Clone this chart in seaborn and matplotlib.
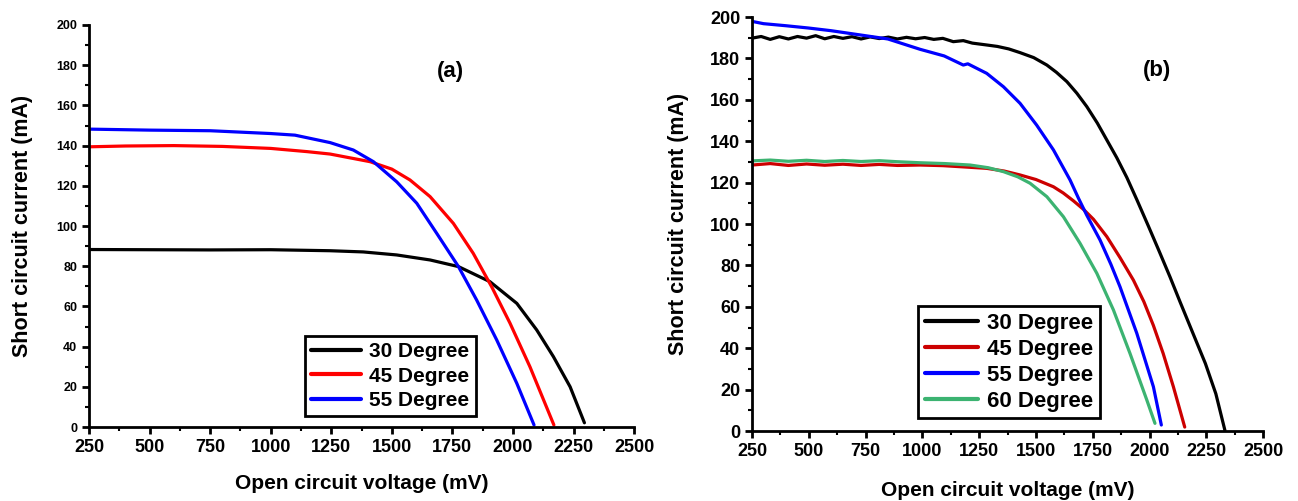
import pandas as pd
import seaborn as sns
import matplotlib.pyplot as plt
from matplotlib.ticker import MultipleLocator

# ---- panel (a) data ----
a30_v = [250, 500, 750, 1000, 1245, 1382, 1520, 1658, 1775, 1905, 2016, 2098, 2167, 2236, 2295]
a30_i = [88.3, 88.2, 88.1, 88.2, 87.7, 87.1, 85.6, 83.1, 79.8, 72.3, 61.5, 48.3, 35.0, 20.0, 2.1]

a45_v = [250, 400, 600, 800, 1000, 1150, 1245, 1410, 1500, 1575, 1658, 1754, 1836, 1912, 1988, 2070, 2169]
a45_i = [139.4, 139.8, 140.0, 139.6, 138.6, 137.0, 135.8, 132.0, 128.3, 122.9, 114.6, 101.3, 86.4, 69.8, 51.6, 30.0, 1.0]

a55_v = [250, 500, 750, 1000, 1100, 1245, 1341, 1424, 1520, 1603, 1685, 1775, 1850, 1933, 2016, 2087]
a55_i = [148.2, 147.7, 147.4, 146.0, 145.2, 141.5, 137.8, 132.0, 122.0, 111.3, 96.4, 79.8, 63.2, 43.3, 21.7, 1.0]

# ---- panel (b) data ----
b30_v = [250, 290, 330, 370, 410, 450, 490, 530, 570, 610, 650, 690, 730, 770, 810, 850, 890, 930,
         970, 1010, 1050, 1090, 1136, 1180, 1220, 1283, 1330, 1380, 1430, 1490, 1548, 1590, 1636,
         1680, 1724, 1770, 1812, 1856, 1900, 1944, 1995, 2040, 2090, 2134, 2192, 2246, 2292, 2332]
b30_i = [189.8, 190.6, 189.2, 190.5, 189.4, 190.6, 189.8, 191.0, 189.5, 190.6, 189.7, 190.5, 189.4,
         190.4, 189.6, 190.3, 189.4, 190.2, 189.5, 190.1, 189.2, 189.7, 188.1, 188.6, 187.4, 186.5,
         185.8, 184.6, 182.8, 180.4, 176.8, 173.3, 168.8, 163.2, 156.7, 148.8, 140.6, 132.0, 122.5,
         111.8, 99.0, 87.5, 74.5, 62.5, 47.0, 32.6, 18.0, 0.3]

b45_v = [250, 330, 410, 490, 570, 650, 730, 810, 890, 990, 1090, 1180, 1283, 1360, 1430, 1500,
         1577, 1620, 1665, 1710, 1753, 1812, 1870, 1929, 1975, 2017, 2060, 2105, 2134, 2155]
b45_i = [128.5, 129.2, 128.3, 129.0, 128.4, 128.9, 128.3, 128.8, 128.3, 128.5, 128.2, 127.6, 126.9,
         125.6, 123.7, 121.5, 118.0, 115.0, 111.2, 107.0, 102.3, 93.9, 83.8, 72.9, 62.5, 51.0, 37.5,
         21.4, 10.1, 1.9]

b55_v = [250, 300, 399, 498, 598, 748, 848, 990, 1096, 1180, 1200, 1283, 1357, 1430, 1503, 1577,
         1650, 1687, 1724, 1782, 1830, 1870, 1944, 2017, 2052]
b55_i = [197.9, 196.8, 195.8, 194.7, 193.4, 191.0, 189.4, 184.4, 181.2, 176.8, 177.4, 172.8, 166.3,
         158.3, 147.8, 135.8, 121.3, 112.5, 104.2, 92.3, 80.5, 69.7, 47.2, 21.4, 2.9]

b60_v = [250, 330, 410, 490, 570, 650, 730, 810, 890, 990, 1100, 1210, 1290, 1357, 1420, 1474,
         1548, 1621, 1694, 1768, 1841, 1914, 1988, 2024]
b60_i = [130.5, 130.9, 130.3, 130.8, 130.2, 130.7, 130.2, 130.6, 130.1, 129.6, 129.2, 128.5, 127.2,
         125.3, 122.8, 119.7, 113.2, 103.5, 90.7, 76.2, 58.5, 37.5, 15.0, 3.7]

labels_a = ['30 Degree', '45 Degree', '55 Degree']
labels_b = ['30 Degree', '45 Degree', '55 Degree', '60 Degree']
colors_a = ['#000000', '#ff0000', '#0000ff']
colors_b = ['#000000', '#cc0000', '#0000ff', '#3cb371']


def long_df(series, labels):
    frames = []
    for (v, i), lab in zip(series, labels):
        frames.append(pd.DataFrame({'V': v, 'I': i, 'angle': lab}))
    return pd.concat(frames, ignore_index=True)


df_a = long_df([(a30_v, a30_i), (a45_v, a45_i), (a55_v, a55_i)], labels_a)
df_b = long_df([(b30_v, b30_i), (b45_v, b45_i), (b55_v, b55_i), (b60_v, b60_i)], labels_b)

sns.set_style('ticks')
plt.rcParams['font.family'] = ['Liberation Sans', 'DejaVu Sans']
plt.rcParams['font.weight'] = 'bold'
plt.rcParams['text.color'] = 'black'
plt.rcParams['axes.labelcolor'] = 'black'
plt.rcParams['xtick.color'] = 'black'
plt.rcParams['ytick.color'] = 'black'

fig = plt.figure(figsize=(12.98, 5.01), dpi=100)
ax1 = fig.add_axes([0.0686, 0.1477, 0.4199, 0.8024])
ax2 = fig.add_axes([0.5794, 0.1397, 0.3937, 0.8263])


def style_axes(ax, ysize, ypad, xpad):
    ax.set_xlim(250, 2500)
    ax.set_ylim(0, 200)
    ax.xaxis.set_major_locator(MultipleLocator(250))
    ax.xaxis.set_minor_locator(MultipleLocator(125))
    ax.yaxis.set_major_locator(MultipleLocator(20))
    ax.yaxis.set_minor_locator(MultipleLocator(10))
    for side in ['top', 'right']:
        ax.spines[side].set_visible(False)
    for side in ['left', 'bottom']:
        ax.spines[side].set_linewidth(2)
        ax.spines[side].set_color('black')
    ax.tick_params(which='major', direction='out', length=5, width=2, color='black')
    ax.tick_params(which='minor', direction='out', length=3, width=1.5, color='black')
    ax.tick_params(axis='x', which='major', labelsize=13)
    ax.tick_params(axis='y', which='major', labelsize=ysize)
    for t in ax.get_xticklabels() + ax.get_yticklabels():
        t.set_fontweight('bold')
    ax.set_xlabel('Open circuit voltage (mV)', fontsize=15, fontweight='bold', labelpad=xpad)
    ax.set_ylabel('Short circuit current (mA)', fontsize=15.5, fontweight='bold', labelpad=ypad)


sns.lineplot(data=df_a, x='V', y='I', hue='angle', palette=colors_a, sort=False,
             estimator=None, linewidth=2.3, legend=False, ax=ax1)
sns.lineplot(data=df_b, x='V', y='I', hue='angle', palette=colors_b, sort=False,
             estimator=None, linewidth=2.3, legend=False, ax=ax2)

style_axes(ax1, 9, 17, 13)
style_axes(ax2, 13, 15, 15)

ax1.text(1741, 177, '(a)', fontsize=16, fontweight='bold', ha='center', va='center')
ax2.text(2033, 174, '(b)', fontsize=16, fontweight='bold', ha='center', va='center')

for ax, labels, colors, loc, size, spacing in [
        (ax1, labels_a, colors_a, (0.396, 0.027), 15, 0.25),
        (ax2, labels_b, colors_b, (0.325, 0.031), 16, 0.22)]:
    handles = [plt.Line2D([], [], color=c, linewidth=3) for c in colors]
    leg = ax.legend(handles, labels, loc='lower left', bbox_to_anchor=loc,
                    prop={'weight': 'bold', 'size': size},
                    frameon=True, fancybox=False, handlelength=2.4,
                    handletextpad=0.4, borderpad=0.3, labelspacing=spacing,
                    borderaxespad=0)
    leg.get_frame().set_edgecolor('black')
    leg.get_frame().set_linewidth(2)
    leg.get_frame().set_alpha(1)

plt.savefig('out.png', dpi=100)
